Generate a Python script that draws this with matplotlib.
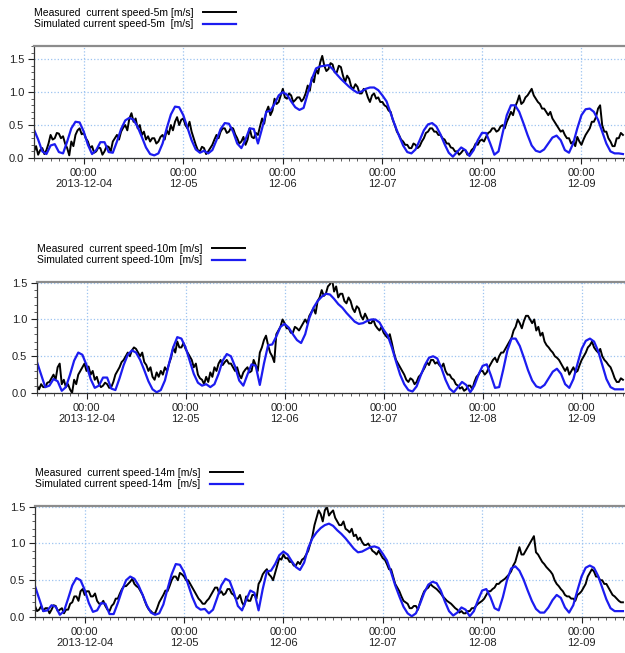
import numpy as np
import pandas as pd
import matplotlib
matplotlib.use("Agg")
import matplotlib.pyplot as plt
import matplotlib.dates as mdates
from matplotlib.ticker import MultipleLocator, FixedLocator

plt.rcParams["font.family"] = ["Liberation Sans", "DejaVu Sans"]

# measured: half-hourly, simulated: hourly; both start 2013-12-03 12:00
MEAS_TIMES = pd.date_range("2013-12-03 12:00", periods=285, freq="30min")
SIM_TIMES = pd.date_range("2013-12-03 12:00", periods=143, freq="h")

MEAS_5M = [
    0.10, 0.18, 0.05, 0.12, 0.15, 0.06, 0.12, 0.22, 0.35, 0.28, 0.30, 0.38,
    0.37, 0.30, 0.33, 0.22, 0.15, 0.04, 0.25, 0.18, 0.35, 0.42, 0.45, 0.36,
    0.38, 0.30, 0.25, 0.15, 0.18, 0.08, 0.10, 0.16, 0.15, 0.05, 0.10, 0.18,
    0.17, 0.10, 0.25, 0.30, 0.35, 0.28, 0.40, 0.46, 0.50, 0.42, 0.60, 0.68,
    0.55, 0.60, 0.45, 0.50, 0.35, 0.40, 0.28, 0.33, 0.25, 0.30, 0.30, 0.22,
    0.25, 0.32, 0.35, 0.28, 0.42, 0.36, 0.50, 0.42, 0.55, 0.62, 0.50, 0.58,
    0.60, 0.50, 0.45, 0.55, 0.40, 0.30, 0.20, 0.12, 0.10, 0.17, 0.15, 0.06,
    0.10, 0.15, 0.20, 0.28, 0.35, 0.30, 0.40, 0.45, 0.45, 0.38, 0.40, 0.46,
    0.45, 0.36, 0.30, 0.22, 0.25, 0.32, 0.20, 0.28, 0.45, 0.32, 0.30, 0.38,
    0.35, 0.48, 0.60, 0.52, 0.70, 0.78, 0.65, 0.72, 0.90, 0.82, 0.85, 0.95,
    1.05, 0.92, 0.90, 0.98, 0.95, 0.85, 0.88, 0.92, 0.92, 0.86, 0.90, 0.98,
    1.10, 1.02, 1.22, 1.15, 1.35, 1.28, 1.45, 1.55, 1.40, 1.32, 1.35, 1.44,
    1.42, 1.30, 1.30, 1.40, 1.38, 1.25, 1.15, 1.25, 1.20, 1.08, 1.05, 1.12,
    1.08, 0.98, 0.98, 1.05, 1.02, 0.92, 0.85, 0.95, 0.98, 0.90, 0.92, 0.85,
    0.85, 0.80, 0.78, 0.72, 0.70, 0.58, 0.50, 0.40, 0.35, 0.28, 0.25, 0.20,
    0.20, 0.15, 0.15, 0.22, 0.20, 0.15, 0.18, 0.25, 0.30, 0.38, 0.40, 0.45,
    0.45, 0.40, 0.40, 0.35, 0.35, 0.30, 0.28, 0.22, 0.22, 0.16, 0.15, 0.10,
    0.10, 0.05, 0.08, 0.12, 0.12, 0.05, 0.05, 0.12, 0.15, 0.22, 0.20, 0.26,
    0.28, 0.25, 0.32, 0.38, 0.40, 0.45, 0.45, 0.40, 0.42, 0.48, 0.50, 0.45,
    0.55, 0.62, 0.70, 0.65, 0.78, 0.85, 0.95, 0.82, 0.85, 0.92, 0.95, 1.00,
    1.05, 0.95, 0.90, 0.85, 0.82, 0.75, 0.75, 0.70, 0.65, 0.70, 0.60, 0.55,
    0.50, 0.45, 0.40, 0.42, 0.35, 0.30, 0.30, 0.22, 0.25, 0.18, 0.32, 0.25,
    0.20, 0.28, 0.35, 0.40, 0.45, 0.55, 0.55, 0.62, 0.75, 0.80, 0.50, 0.40,
    0.40, 0.30, 0.25, 0.18, 0.18, 0.30, 0.30, 0.38, 0.35,
]
SIM_5M = [
    0.43, 0.28, 0.10, 0.06, 0.19, 0.21, 0.09, 0.07, 0.25, 0.45, 0.55, 0.54,
    0.40, 0.20, 0.06, 0.12, 0.24, 0.24, 0.09, 0.08, 0.25, 0.44, 0.57, 0.61,
    0.58, 0.47, 0.32, 0.16, 0.06, 0.04, 0.07, 0.22, 0.45, 0.66, 0.78, 0.77,
    0.65, 0.46, 0.27, 0.13, 0.08, 0.11, 0.07, 0.12, 0.27, 0.44, 0.53, 0.52,
    0.40, 0.22, 0.15, 0.28, 0.45, 0.44, 0.22, 0.45, 0.70, 0.72, 0.82, 0.95,
    1.00, 0.96, 0.86, 0.77, 0.73, 0.76, 0.98, 1.20, 1.36, 1.39, 1.40, 1.41,
    1.35, 1.27, 1.20, 1.14, 1.08, 1.03, 0.99, 1.01, 1.05, 1.07, 1.07, 1.03,
    0.95, 0.86, 0.68, 0.50, 0.34, 0.19, 0.09, 0.07, 0.13, 0.27, 0.42, 0.51,
    0.53, 0.48, 0.36, 0.21, 0.08, 0.02, 0.09, 0.16, 0.12, 0.03, 0.12, 0.27,
    0.38, 0.38, 0.22, 0.05, 0.10, 0.38, 0.65, 0.80, 0.80, 0.70, 0.53, 0.35,
    0.19, 0.11, 0.09, 0.13, 0.22, 0.31, 0.34, 0.27, 0.12, 0.08, 0.22, 0.45,
    0.65, 0.74, 0.75, 0.70, 0.58, 0.40, 0.22, 0.10, 0.07, 0.07, 0.06,
]
MEAS_10M = [
    0.10, 0.05, 0.12, 0.08, 0.08, 0.14, 0.15, 0.20, 0.25, 0.18, 0.35, 0.40,
    0.12, 0.18, 0.08, 0.12, 0.05, 0.00, 0.18, 0.12, 0.25, 0.30, 0.35, 0.40,
    0.30, 0.36, 0.25, 0.30, 0.18, 0.22, 0.12, 0.08, 0.10, 0.14, 0.12, 0.07,
    0.08, 0.15, 0.25, 0.30, 0.35, 0.42, 0.45, 0.50, 0.55, 0.50, 0.58, 0.62,
    0.60, 0.55, 0.50, 0.55, 0.42, 0.38, 0.30, 0.35, 0.22, 0.18, 0.28, 0.22,
    0.30, 0.25, 0.35, 0.30, 0.40, 0.48, 0.62, 0.55, 0.70, 0.62, 0.62, 0.68,
    0.60, 0.55, 0.50, 0.45, 0.35, 0.40, 0.25, 0.20, 0.18, 0.12, 0.22, 0.15,
    0.28, 0.22, 0.35, 0.30, 0.40, 0.45, 0.38, 0.42, 0.45, 0.40, 0.40, 0.35,
    0.30, 0.35, 0.25, 0.20, 0.28, 0.32, 0.35, 0.28, 0.30, 0.45, 0.38, 0.30,
    0.55, 0.62, 0.72, 0.78, 0.65, 0.55, 0.50, 0.42, 0.80, 0.85, 0.90, 1.00,
    0.95, 0.88, 0.88, 0.82, 0.82, 0.90, 0.88, 0.85, 0.90, 0.95, 1.00, 0.95,
    1.05, 1.10, 1.15, 1.08, 1.25, 1.30, 1.40, 1.32, 1.35, 1.45, 1.48, 1.55,
    1.38, 1.45, 1.30, 1.35, 1.35, 1.25, 1.22, 1.30, 1.25, 1.15, 1.10, 1.18,
    1.15, 1.05, 1.00, 1.08, 1.02, 0.95, 0.95, 1.00, 0.92, 0.88, 0.85, 0.90,
    0.82, 0.78, 0.75, 0.80, 0.68, 0.55, 0.45, 0.40, 0.35, 0.30, 0.25, 0.18,
    0.15, 0.20, 0.18, 0.12, 0.15, 0.22, 0.25, 0.30, 0.35, 0.42, 0.38, 0.45,
    0.45, 0.40, 0.42, 0.38, 0.35, 0.40, 0.30, 0.25, 0.25, 0.20, 0.18, 0.12,
    0.10, 0.06, 0.08, 0.03, 0.05, 0.10, 0.10, 0.05, 0.15, 0.22, 0.25, 0.30,
    0.30, 0.25, 0.28, 0.35, 0.40, 0.45, 0.48, 0.42, 0.50, 0.55, 0.55, 0.60,
    0.65, 0.70, 0.75, 0.85, 0.90, 1.00, 0.95, 0.88, 0.98, 1.05, 1.05, 1.00,
    0.95, 1.00, 0.85, 0.90, 0.78, 0.82, 0.70, 0.65, 0.62, 0.58, 0.55, 0.50,
    0.48, 0.45, 0.40, 0.35, 0.30, 0.35, 0.25, 0.30, 0.35, 0.28, 0.30, 0.38,
    0.45, 0.50, 0.55, 0.62, 0.65, 0.70, 0.62, 0.58, 0.55, 0.60, 0.50, 0.45,
    0.42, 0.38, 0.35, 0.28, 0.20, 0.15, 0.15, 0.20, 0.18,
]
SIM_10M = [
    0.42, 0.25, 0.08, 0.10, 0.19, 0.16, 0.03, 0.08, 0.25, 0.44, 0.55, 0.52,
    0.38, 0.19, 0.07, 0.10, 0.21, 0.21, 0.06, 0.04, 0.20, 0.38, 0.52, 0.58,
    0.55, 0.45, 0.31, 0.16, 0.05, 0.01, 0.04, 0.17, 0.40, 0.62, 0.76, 0.74,
    0.62, 0.44, 0.26, 0.14, 0.10, 0.12, 0.08, 0.12, 0.26, 0.44, 0.53, 0.50,
    0.36, 0.17, 0.10, 0.25, 0.39, 0.37, 0.11, 0.40, 0.65, 0.66, 0.77, 0.90,
    0.94, 0.89, 0.80, 0.72, 0.68, 0.80, 1.02, 1.16, 1.25, 1.31, 1.35, 1.34,
    1.28, 1.21, 1.16, 1.09, 1.03, 0.97, 0.94, 0.95, 0.98, 1.00, 1.00, 0.96,
    0.86, 0.78, 0.62, 0.43, 0.25, 0.12, 0.04, 0.02, 0.09, 0.24, 0.38, 0.48,
    0.50, 0.47, 0.34, 0.18, 0.06, 0.01, 0.08, 0.15, 0.11, 0.01, 0.10, 0.25,
    0.37, 0.39, 0.24, 0.07, 0.08, 0.32, 0.58, 0.74, 0.74, 0.64, 0.48, 0.31,
    0.17, 0.09, 0.07, 0.11, 0.20, 0.29, 0.33, 0.26, 0.12, 0.07, 0.19, 0.40,
    0.60, 0.71, 0.74, 0.70, 0.57, 0.38, 0.19, 0.08, 0.05, 0.05, 0.05,
]
MEAS_14M = [
    0.15, 0.08, 0.10, 0.15, 0.08, 0.12, 0.12, 0.05, 0.10, 0.16, 0.15, 0.08,
    0.10, 0.12, 0.05, 0.10, 0.10, 0.18, 0.20, 0.28, 0.28, 0.22, 0.35, 0.38,
    0.30, 0.35, 0.35, 0.28, 0.28, 0.32, 0.22, 0.18, 0.18, 0.22, 0.15, 0.10,
    0.08, 0.15, 0.18, 0.25, 0.25, 0.32, 0.38, 0.42, 0.42, 0.45, 0.48, 0.52,
    0.45, 0.42, 0.40, 0.35, 0.30, 0.22, 0.15, 0.10, 0.08, 0.05, 0.05, 0.12,
    0.20, 0.25, 0.30, 0.36, 0.35, 0.42, 0.50, 0.55, 0.55, 0.50, 0.60, 0.58,
    0.55, 0.50, 0.50, 0.45, 0.40, 0.35, 0.30, 0.25, 0.22, 0.18, 0.18, 0.22,
    0.25, 0.30, 0.35, 0.40, 0.40, 0.32, 0.35, 0.30, 0.32, 0.38, 0.38, 0.32,
    0.30, 0.25, 0.25, 0.30, 0.20, 0.15, 0.28, 0.22, 0.22, 0.30, 0.30, 0.25,
    0.45, 0.50, 0.58, 0.62, 0.65, 0.58, 0.55, 0.50, 0.60, 0.70, 0.80, 0.78,
    0.85, 0.80, 0.80, 0.75, 0.75, 0.70, 0.70, 0.75, 0.72, 0.78, 0.80, 0.85,
    0.90, 1.00, 1.10, 1.25, 1.35, 1.45, 1.40, 1.30, 1.45, 1.50, 1.38, 1.42,
    1.45, 1.35, 1.30, 1.25, 1.25, 1.30, 1.20, 1.18, 1.15, 1.20, 1.10, 1.12,
    1.05, 1.08, 1.02, 0.98, 0.98, 1.00, 0.95, 0.90, 0.88, 0.85, 0.90, 0.85,
    0.80, 0.78, 0.72, 0.65, 0.65, 0.55, 0.45, 0.40, 0.35, 0.28, 0.22, 0.20,
    0.18, 0.12, 0.12, 0.15, 0.15, 0.10, 0.20, 0.28, 0.35, 0.38, 0.40, 0.45,
    0.42, 0.40, 0.38, 0.35, 0.32, 0.28, 0.25, 0.22, 0.20, 0.18, 0.15, 0.12,
    0.10, 0.06, 0.08, 0.05, 0.05, 0.08, 0.08, 0.12, 0.12, 0.15, 0.18, 0.20,
    0.22, 0.25, 0.30, 0.35, 0.35, 0.38, 0.40, 0.45, 0.45, 0.48, 0.50, 0.52,
    0.55, 0.58, 0.62, 0.70, 0.75, 0.85, 0.95, 0.85, 0.85, 0.90, 0.95, 1.00,
    1.05, 1.10, 0.88, 0.85, 0.80, 0.75, 0.72, 0.68, 0.65, 0.62, 0.58, 0.50,
    0.45, 0.42, 0.38, 0.35, 0.30, 0.28, 0.28, 0.25, 0.25, 0.22, 0.30, 0.32,
    0.35, 0.40, 0.45, 0.55, 0.60, 0.65, 0.62, 0.55, 0.55, 0.50, 0.50, 0.45,
    0.45, 0.40, 0.35, 0.30, 0.28, 0.25, 0.22, 0.20, 0.20,
]
SIM_14M = [
    0.42, 0.25, 0.08, 0.09, 0.16, 0.14, 0.03, 0.08, 0.25, 0.43, 0.53, 0.50,
    0.37, 0.19, 0.07, 0.09, 0.19, 0.18, 0.04, 0.04, 0.19, 0.36, 0.50, 0.55,
    0.52, 0.43, 0.30, 0.16, 0.06, 0.03, 0.05, 0.17, 0.38, 0.58, 0.72, 0.71,
    0.61, 0.44, 0.27, 0.14, 0.10, 0.11, 0.05, 0.10, 0.26, 0.43, 0.52, 0.49,
    0.34, 0.15, 0.09, 0.23, 0.36, 0.33, 0.09, 0.38, 0.62, 0.63, 0.72, 0.84,
    0.89, 0.85, 0.76, 0.68, 0.64, 0.74, 0.94, 1.07, 1.15, 1.21, 1.25, 1.27,
    1.24, 1.18, 1.13, 1.07, 1.00, 0.93, 0.88, 0.89, 0.92, 0.95, 0.96, 0.94,
    0.86, 0.77, 0.61, 0.43, 0.28, 0.14, 0.05, 0.01, 0.05, 0.18, 0.33, 0.44,
    0.48, 0.46, 0.36, 0.21, 0.08, 0.02, 0.06, 0.13, 0.10, 0.01, 0.08, 0.23,
    0.36, 0.38, 0.27, 0.12, 0.09, 0.27, 0.50, 0.66, 0.69, 0.63, 0.51, 0.36,
    0.22, 0.11, 0.06, 0.06, 0.13, 0.23, 0.30, 0.26, 0.13, 0.06, 0.16, 0.36,
    0.55, 0.67, 0.70, 0.67, 0.56, 0.40, 0.24, 0.12, 0.08, 0.08, 0.08,
]

DEPTHS = ["5m", "10m", "14m"]
TICK_DAYS = ["2013-12-04", "2013-12-05", "2013-12-06", "2013-12-07", "2013-12-08", "2013-12-09"]
TICK_LABELS = ["00:00\n2013-12-04", "00:00\n12-05", "00:00\n12-06",
               "00:00\n12-07", "00:00\n12-08", "00:00\n12-09"]
YMAX = [1.70, 1.51, 1.51]

# axes rectangles in figure pixels: left, top, bottom
BOXES = [(34, 46, 158), (37, 282, 393), (35, 506, 617)]
W, H = 625, 653

fig = plt.figure(figsize=(W / 100, H / 100), dpi=100)
series = [(MEAS_5M, SIM_5M), (MEAS_10M, SIM_10M), (MEAS_14M, SIM_14M)]

for i, ((meas, sim), depth, (left, top, bot)) in enumerate(zip(series, DEPTHS, BOXES)):
    ax = fig.add_axes([left / W, 1 - bot / H, 1 - left / W, (bot - top) / H])
    ax.plot(MEAS_TIMES, meas, color="black", lw=1.4,
            label=f"Measured  current speed-{depth} [m/s]")
    ax.plot(SIM_TIMES, sim, color="#1c1cf0", lw=1.6,
            label=f"Simulated current speed-{depth}  [m/s]")

    ax.set_xlim(pd.Timestamp("2013-12-03 12:00"), pd.Timestamp("2013-12-09 10:30"))
    ax.set_ylim(0, YMAX[i])

    ticks = [mdates.date2num(pd.Timestamp(d)) for d in TICK_DAYS]
    ax.xaxis.set_major_locator(FixedLocator(ticks))
    ax.set_xticklabels(TICK_LABELS)
    ax.xaxis.set_minor_locator(mdates.HourLocator(byhour=range(0, 24, 2)))
    ax.yaxis.set_major_locator(FixedLocator([0, 0.5, 1.0, 1.5]))
    ax.set_yticklabels(["0.0", "0.5", "1.0", "1.5"])
    ax.yaxis.set_minor_locator(MultipleLocator(0.1))

    ax.tick_params(which="major", length=4, width=0.8, labelsize=8, colors="#222222", pad=3)
    ax.tick_params(which="minor", length=2.5, width=0.6, color="#444444")
    ax.grid(True, which="major", color="#9cc3f0", linestyle=":", linewidth=0.9)
    ax.set_axisbelow(True)

    ax.spines["right"].set_visible(False)
    ax.spines["top"].set_color("#8c8c8c")
    ax.spines["top"].set_linewidth(1.6)
    for s in ("left", "bottom"):
        ax.spines[s].set_color("#333333")
        ax.spines[s].set_linewidth(0.9)

    ax.legend(loc="lower left", bbox_to_anchor=(0.0, 1.15), frameon=False,
              markerfirst=False, fontsize=7.5, handlelength=3.2,
              handletextpad=0.9, labelspacing=0.15, borderpad=0,
              borderaxespad=0)

fig.savefig("out.png", dpi=100)
